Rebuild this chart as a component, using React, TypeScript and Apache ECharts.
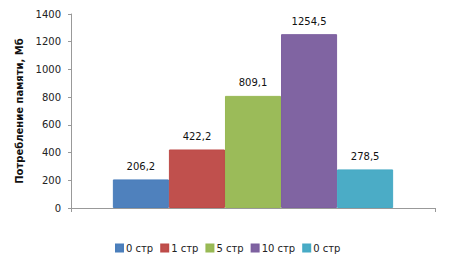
import React, { useEffect, useRef } from "react";
import * as echarts from "echarts";

const seriesNames = ["0 стр", "1 стр", "5 стр", "10 стр", "0 стр"];
const seriesValues = [206.2, 422.2, 809.1, 1254.5, 278.5];
const seriesColors = ["#4F81BD", "#C0504D", "#9BBB59", "#8064A2", "#4BACC6"];
const borderColors = ["#4A7EBB", "#BE4B48", "#98B954", "#7D60A0", "#46AAC5"];
const categories = [""];
const yAxisTitle = "Потребление памяти, Мб";

export default function App() {
  const ref = useRef<HTMLDivElement>(null);
  useEffect(() => {
    if (!ref.current) return;
    const chart = echarts.init(ref.current, undefined, { renderer: "svg" });
    const ids = seriesNames.map((n, i) => n + "#" + i);
    chart.setOption({
      animation: false,
      backgroundColor: "#ffffff",
      textStyle: { fontFamily: "DejaVu Sans" },
      grid: { left: 71, right: 15, top: 14, bottom: 62 },
      legend: {
        data: ids,
        bottom: 12,
        left: 110,
        itemWidth: 7,
        itemHeight: 7,
        itemGap: 7,
        icon: "rect",
        formatter: (name: string) => name.split("#")[0],
        textStyle: { fontSize: 10, color: "#222", fontFamily: "DejaVu Sans", padding: [0, 0, 0, -2] },
      },
      xAxis: {
        type: "category",
        data: categories,
        axisLine: { lineStyle: { color: "#999", width: 1 } },
        axisTick: { show: true, length: 4, lineStyle: { color: "#999" } },
        axisLabel: { show: false },
      },
      yAxis: {
        type: "value",
        min: 0,
        max: 1400,
        interval: 200,
        name: yAxisTitle,
        nameLocation: "middle",
        nameGap: 35,
        nameTextStyle: { fontSize: 10, fontWeight: "bold", color: "#111", fontFamily: "DejaVu Sans" },
        axisLine: { show: true, lineStyle: { color: "#999", width: 1 } },
        axisTick: { show: true, length: 3, lineStyle: { color: "#999" } },
        axisLabel: { fontSize: 10, color: "#222", margin: 10, fontFamily: "DejaVu Sans", formatter: (v: number) => String(v) },
        splitLine: { show: false },
      },
      series: seriesValues.map((v, i) => ({
        type: "bar",
        name: ids[i],
        data: [v],
        barGap: "0%",
        barCategoryGap: "23%",
        itemStyle: { color: seriesColors[i], borderColor: borderColors[i], borderWidth: 1 },
        label: {
          show: true,
          position: "top",
          distance: 8,
          fontSize: 10,
          color: "#111",
          fontFamily: "DejaVu Sans",
          formatter: (p: any) => String(p.value).replace(".", ","),
        },
      })),
    });
    return () => chart.dispose();
  }, []);
  return <div ref={ref} style={{ width: 450, height: 270, position: "fixed", left: 0, top: 0 }} />;
}
